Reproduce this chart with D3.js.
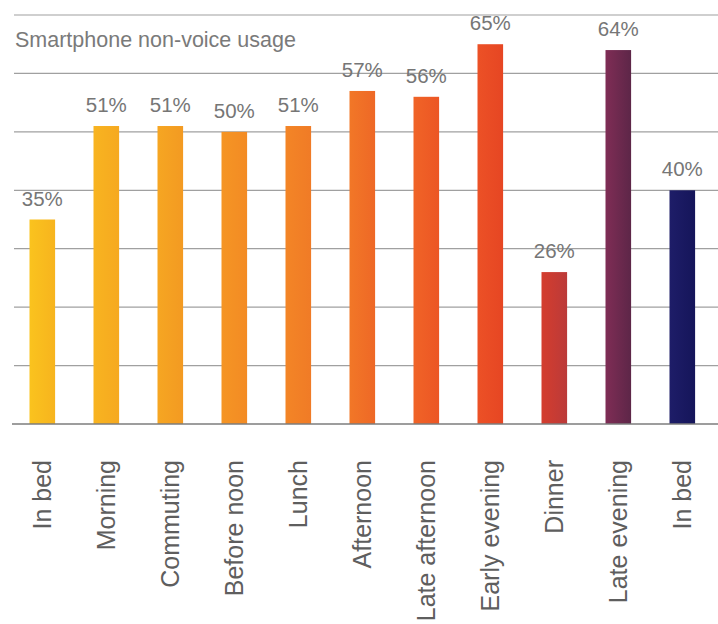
<!DOCTYPE html>
<html>
<head>
<meta charset="utf-8">
<script src="https://cdn.jsdelivr.net/npm/d3@7"></script>
<style>
body { margin: 0; background: #fff; }
svg { display: block; font-family: "Liberation Sans", Arial, sans-serif; }
</style>
</head>
<body>
<svg id="chart" width="718" height="624"></svg>
<script>
// data
var categories = ["In bed", "Morning", "Commuting", "Before noon", "Lunch", "Afternoon",
	"Late afternoon", "Early evening", "Dinner", "Late evening", "In bed "];
var labels = ["In bed", "Morning", "Commuting", "Before noon", "Lunch", "Afternoon",
	"Late afternoon", "Early evening", "Dinner", "Late evening", "In bed"];
var usage = [35, 51, 51, 50, 51, 57, 56, 65, 26, 64, 40];
var yTicks = [0, 10, 20, 30, 40, 50, 60, 70];
var title = "Smartphone non-voice usage";

// bar shading, left edge to right edge
var leftColors = ["#fac31e", "#f8b420", "#f6a622", "#f59524", "#f38526", "#f27727",
	"#f06427", "#ec5126", "#d43d2e", "#7f2d55", "#1e1d68"];
var rightColors = ["#f7b41e", "#f6a920", "#f39a22", "#f38b24", "#f07b26", "#ee6826",
	"#ec5624", "#e64623", "#bb3a39", "#5d2648", "#15155a"];

var svg = d3.select("#chart");

var x = d3.scaleBand()
	.domain(categories)
	.range([10.3, 714.3])
	.paddingInner(0.6)
	.paddingOuter(0.3);

var y = d3.scaleLinear()
	.domain([0, 70])
	.range([424, 15]);

var defs = svg.append("defs");
categories.forEach(function(c, i){
	var g = defs.append("linearGradient")
		.attr("id", "grad" + i)
		.attr("x1", "0").attr("x2", "1").attr("y1", "0").attr("y2", "0");
	g.append("stop").attr("offset", "0").attr("stop-color", leftColors[i]);
	g.append("stop").attr("offset", "1").attr("stop-color", rightColors[i]);
});

// grid lines
svg.append("g")
	.selectAll("line")
	.data(yTicks.filter(function(t){ return t > 0; }))
	.enter().append("line")
	.attr("x1", 14)
	.attr("x2", 718)
	.attr("y1", function(d){ return y(d); })
	.attr("y2", function(d){ return y(d); })
	.attr("stroke", "#a0a0a0")
	.attr("stroke-width", 1.2);

// title
svg.append("text")
	.text(title)
	.attr("x", 15)
	.attr("y", 47)
	.attr("font-size", 21.5)
	.attr("fill", "#7a7a7a");

// bars
svg.append("g")
	.selectAll("rect")
	.data(usage)
	.enter().append("rect")
	.attr("x", function(d, i){ return x(categories[i]); })
	.attr("width", x.bandwidth())
	.attr("y", function(d){ return y(d); })
	.attr("height", function(d){ return y(0) - y(d); })
	.attr("fill", function(d, i){ return "url(#grad" + i + ")"; });

// value labels
svg.append("g")
	.selectAll("text")
	.data(usage)
	.enter().append("text")
	.text(function(d){ return d + "%"; })
	.attr("x", function(d, i){ return x(categories[i]) + x.bandwidth() / 2; })
	.attr("y", function(d){ return y(d) - 14; })
	.attr("text-anchor", "middle")
	.attr("font-size", 20.5)
	.attr("fill", "#767676");

// baseline and category labels
var xAxis = svg.append("g")
	.attr("transform", "translate(0," + y(0) + ")")
	.call(d3.axisBottom(x).tickSize(0).tickFormat(function(d, i){ return labels[i]; }));
xAxis.select(".domain")
	.attr("d", "M12,0H718")
	.attr("stroke", "#7c7c7c")
	.attr("stroke-width", 1.6);
xAxis.selectAll("text")
	.attr("font-family", "'Liberation Sans', Arial, sans-serif")
	.attr("font-size", 25)
	.attr("fill", "#5e5e5e")
	.attr("text-anchor", "end")
	.attr("transform", "translate(0,36) rotate(-90)")
	.attr("x", 0)
	.attr("y", 0)
	.attr("dy", "0.36em");
</script>
</body>
</html>
